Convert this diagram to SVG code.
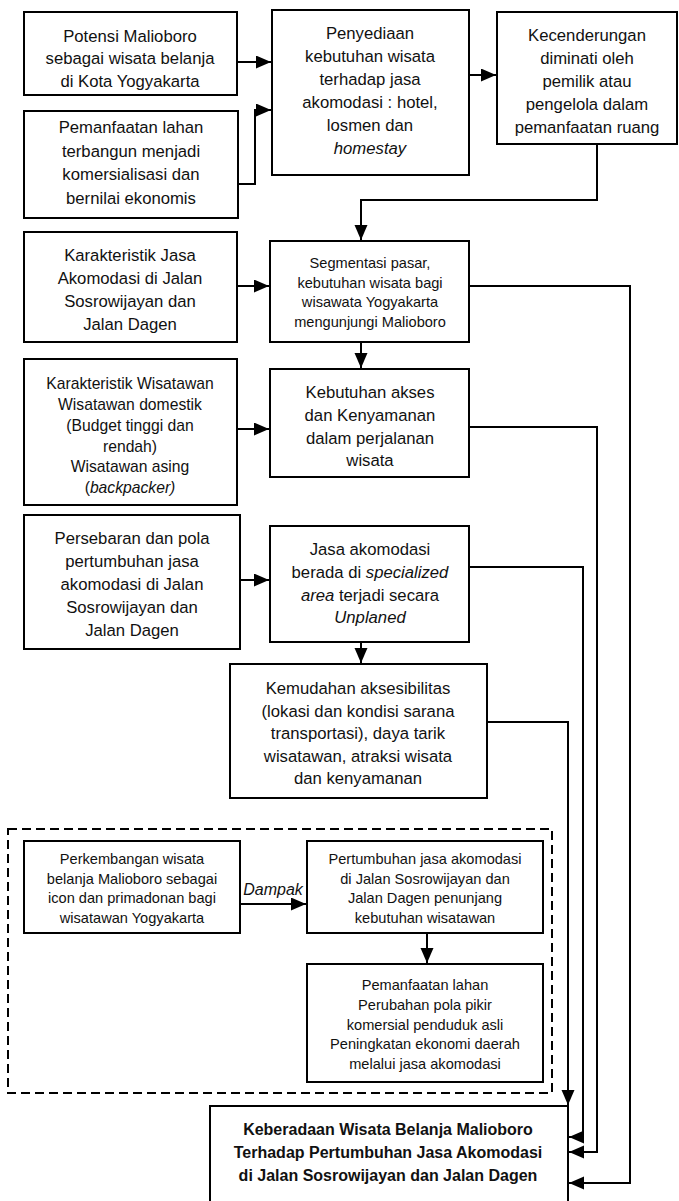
<svg xmlns="http://www.w3.org/2000/svg" width="679" height="1201" viewBox="0 0 679 1201">
<style>
.box{fill:#fff;stroke:#000;stroke-width:2}
.dash{fill:none;stroke:#000;stroke-width:2;stroke-dasharray:9 5}
.ln{fill:none;stroke:#000;stroke-width:2}
.t{font-family:"Liberation Sans",Arial,sans-serif;font-size:16.7px;fill:#111;text-anchor:middle}
.m{font-size:15.7px}
.s{font-size:14.6px}
.b{font-family:"Liberation Sans",Arial,sans-serif;font-size:16px;font-weight:bold;fill:#111;text-anchor:middle}
.i{font-style:italic}
</style>
<defs>
<marker id="ah" markerUnits="userSpaceOnUse" markerWidth="16" markerHeight="14" refX="15" refY="6.5" orient="auto">
<path d="M0,0 L15,6.5 L0,13 z" fill="#000"/>
</marker>
</defs>
<rect id="dashed-group" class="dash" x="8" y="829" width="544" height="264"/>
<g id="connectors">
<path class="ln" d="M237,62 H271" marker-end="url(#ah)"/>
<path class="ln" d="M238,184 H255 V110 H271" marker-end="url(#ah)"/>
<path class="ln" d="M469,75 H496" marker-end="url(#ah)"/>
<path class="ln" d="M597,144 V200 H361 V240" marker-end="url(#ah)"/>
<path class="ln" d="M237,286 H269" marker-end="url(#ah)"/>
<path class="ln" d="M361,342 V368" marker-end="url(#ah)"/>
<path class="ln" d="M237,429 H269" marker-end="url(#ah)"/>
<path class="ln" d="M240,580 H269" marker-end="url(#ah)"/>
<path class="ln" d="M361,642 V663" marker-end="url(#ah)"/>
<path class="ln" d="M469,286 H630 V1183 H569" marker-end="url(#ah)"/>
<path class="ln" d="M469,427 H597 V1152 H569" marker-end="url(#ah)"/>
<path class="ln" d="M469,567 H583 V1137 H569" marker-end="url(#ah)"/>
<path class="ln" d="M487,722 H568 V1105" marker-end="url(#ah)"/>
<path class="ln" d="M240,904 H306" marker-end="url(#ah)"/>
<path class="ln" d="M427,933 V963" marker-end="url(#ah)"/>
<text class="t i" x="273" y="895" style="font-size:16px">Dampak</text>
</g>
<g id="potensi">
<rect class="box" x="24" y="12" width="213" height="83"/>
<text class="t" x="130" y="41.5">Potensi Malioboro</text>
<text class="t" x="130" y="64">sebagai wisata belanja</text>
<text class="t" x="130" y="86.5">di Kota Yogyakarta</text>
</g>
<g id="pemanfaatan-lahan">
<rect class="box" x="24" y="111" width="214" height="107"/>
<text class="t" x="131" y="133">Pemanfaatan lahan</text>
<text class="t" x="131" y="156.5">terbangun menjadi</text>
<text class="t" x="131" y="180">komersialisasi dan</text>
<text class="t" x="131" y="204">bernilai ekonomis</text>
</g>
<g id="penyediaan">
<rect class="box" x="272" y="10" width="197" height="165"/>
<text class="t" x="370" y="39">Penyediaan</text>
<text class="t" x="370" y="62">kebutuhan wisata</text>
<text class="t" x="370" y="85">terhadap jasa</text>
<text class="t" x="370" y="108">akomodasi : hotel,</text>
<text class="t" x="370" y="131">losmen dan</text>
<text class="t i" x="370" y="154">homestay</text>
</g>
<g id="kecenderungan">
<rect class="box" x="497" y="12" width="180" height="132"/>
<text class="t" x="587" y="41">Kecenderungan</text>
<text class="t" x="587" y="64">diminati oleh</text>
<text class="t" x="587" y="87">pemilik atau</text>
<text class="t" x="587" y="110">pengelola dalam</text>
<text class="t" x="587" y="133">pemanfaatan ruang</text>
</g>
<g id="karakteristik-jasa">
<rect class="box" x="24" y="232" width="213" height="110"/>
<text class="t" x="130" y="261">Karakteristik Jasa</text>
<text class="t" x="130" y="284">Akomodasi di Jalan</text>
<text class="t" x="130" y="307">Sosrowijayan dan</text>
<text class="t" x="130" y="330">Jalan Dagen</text>
</g>
<g id="segmentasi">
<rect class="box" x="270" y="241" width="199" height="101"/>
<text class="t s" x="370" y="268">Segmentasi pasar,</text>
<text class="t s" x="370" y="287.5">kebutuhan wisata bagi</text>
<text class="t s" x="370" y="307">wisawata Yogyakarta</text>
<text class="t s" x="370" y="326.5">mengunjungi Malioboro</text>
</g>
<g id="karakteristik-wisatawan">
<rect class="box" x="24" y="359" width="213" height="146"/>
<text class="t m" x="130" y="389">Karakteristik Wisatawan</text>
<text class="t m" x="130" y="409.5">Wisatawan domestik</text>
<text class="t m" x="130" y="430.5">(Budget tinggi dan</text>
<text class="t m" x="130" y="451.5">rendah)</text>
<text class="t m" x="130" y="472">Wisatawan asing</text>
<text class="t m" x="130" y="493">(<tspan class="i">backpacker)</tspan></text>
</g>
<g id="kebutuhan-akses">
<rect class="box" x="270" y="369" width="199" height="108"/>
<text class="t" x="370" y="398">Kebutuhan akses</text>
<text class="t" x="370" y="421">dan Kenyamanan</text>
<text class="t" x="370" y="443.5">dalam perjalanan</text>
<text class="t" x="370" y="466">wisata</text>
</g>
<g id="persebaran">
<rect class="box" x="24" y="515" width="216" height="134"/>
<text class="t" x="132" y="544">Persebaran dan pola</text>
<text class="t" x="132" y="567">pertumbuhan jasa</text>
<text class="t" x="132" y="590">akomodasi di Jalan</text>
<text class="t" x="132" y="613">Sosrowijayan dan</text>
<text class="t" x="132" y="635.5">Jalan Dagen</text>
</g>
<g id="jasa-akomodasi">
<rect class="box" x="270" y="526" width="199" height="116"/>
<text class="t" x="370" y="555">Jasa akomodasi</text>
<text class="t" x="370" y="578">berada di <tspan class="i">specialized</tspan></text>
<text class="t" x="370" y="600.5"><tspan class="i">area</tspan> terjadi secara</text>
<text class="t i" x="370" y="622.5">Unplaned</text>
</g>
<g id="kemudahan">
<rect class="box" x="230" y="664" width="257" height="134"/>
<text class="t" x="358" y="694">Kemudahan aksesibilitas</text>
<text class="t" x="358" y="716.5">(lokasi dan kondisi sarana</text>
<text class="t" x="358" y="739">transportasi), daya tarik</text>
<text class="t" x="358" y="761.5">wisatawan, atraksi wisata</text>
<text class="t" x="358" y="783.5">dan kenyamanan</text>
</g>
<g id="perkembangan">
<rect class="box" x="24" y="841" width="216" height="92"/>
<text class="t s" x="132" y="864">Perkembangan wisata</text>
<text class="t s" x="132" y="883.5">belanja Malioboro sebagai</text>
<text class="t s" x="132" y="903">icon dan primadonan bagi</text>
<text class="t s" x="132" y="922.5">wisatawan Yogyakarta</text>
</g>
<g id="pertumbuhan">
<rect class="box" x="307" y="841" width="236" height="92"/>
<text class="t s" x="425" y="864">Pertumbuhan jasa akomodasi</text>
<text class="t s" x="425" y="883.5">di Jalan Sosrowijayan dan</text>
<text class="t s" x="425" y="903">Jalan Dagen penunjang</text>
<text class="t s" x="425" y="922.5">kebutuhan wisatawan</text>
</g>
<g id="pemanfaatan-dampak">
<rect class="box" x="307" y="964" width="236" height="118"/>
<text class="t s" x="425" y="990">Pemanfaatan lahan</text>
<text class="t s" x="425" y="1010">Perubahan pola pikir</text>
<text class="t s" x="425" y="1029.5">komersial penduduk asli</text>
<text class="t s" x="425" y="1049">Peningkatan ekonomi daerah</text>
<text class="t s" x="425" y="1068.5">melalui jasa akomodasi</text>
</g>
<g id="keberadaan">
<rect class="box" x="210" y="1106" width="358" height="110"/>
<text class="b" x="388" y="1135">Keberadaan Wisata Belanja Malioboro</text>
<text class="b" x="388" y="1158">Terhadap Pertumbuhan Jasa Akomodasi</text>
<text class="b" x="388" y="1181">di Jalan Sosrowijayan dan Jalan Dagen</text>
</g>
</svg>
